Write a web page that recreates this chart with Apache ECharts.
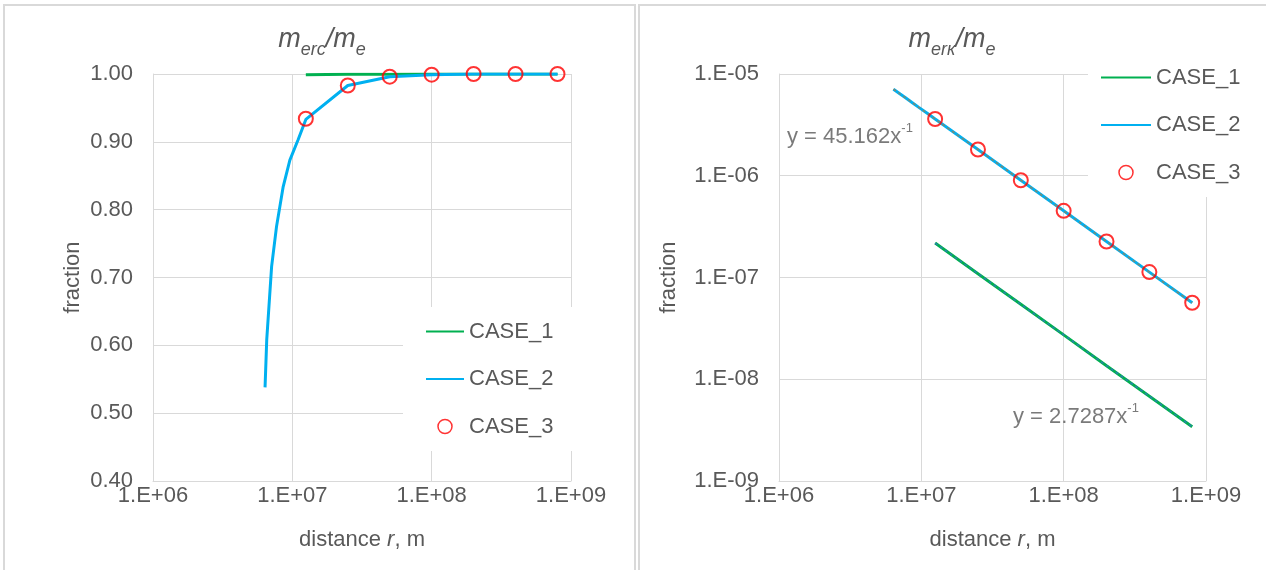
<!DOCTYPE html>
<html>
<head>
<meta charset="utf-8">
<script src="https://cdn.jsdelivr.net/npm/echarts@6/dist/echarts.min.js"></script>
<style>
html,body{margin:0;padding:0;background:#fff;}
#c{width:1266px;height:570px;}
</style>
</head>
<body>
<div id="c"></div>
<script>
// ---- data ----
const seriesNames = ['CASE_1', 'CASE_2', 'CASE_3'];
const xTickLabels = ['1.E+06', '1.E+07', '1.E+08', '1.E+09'];
const yTickLabelsRight = ['1.E-09', '1.E-08', '1.E-07', '1.E-06', '1.E-05'];

// distances r, m
const rCase2 = [6.37e6, 6.55e6, 7.1e6, 7.7e6, 8.6e6, 9.6e6, 1.1e7, 1.25e7, 2.5e7, 5e7, 1e8, 2e8, 4e8, 8e8];
const rCase13 = [1.25e7, 2.5e7, 5e7, 1e8, 2e8, 4e8, 8e8];

// left chart: m_erc/m_e
const ercCase1 = [0.9990, 0.9995, 0.9998, 0.9999, 1.0, 1.0, 1.0];
const ercCase2 = [0.538, 0.608, 0.716, 0.775, 0.834, 0.873, 0.903, 0.933, 0.983, 0.996, 0.999, 1.0, 1.0, 1.0];
const ercCase3 = [0.934, 0.983, 0.996, 0.999, 1.0, 1.0, 1.0];

// right chart: m_erк/m_e
const erkCase1 = [2.18e-7, 1.09e-7, 5.46e-8, 2.73e-8, 1.36e-8, 6.82e-9, 3.41e-9];
const erkCase2 = [7.09e-6, 6.90e-6, 6.36e-6, 5.87e-6, 5.25e-6, 4.70e-6, 4.11e-6, 3.61e-6, 1.81e-6, 9.03e-7, 4.52e-7, 2.26e-7, 1.13e-7, 5.65e-8];
const erkCase3 = [3.61e-6, 1.81e-6, 9.03e-7, 4.52e-7, 2.26e-7, 1.13e-7, 5.65e-8];

// trendline equation labels (anchor in data units)
const trendLabels = [
  { text: 'y = 45.162x', anchor: [3.15e6, 2.5e-6] },
  { text: 'y = 2.7287x', anchor: [1.22e8, 4.45e-9] }
];

// ---- helpers ----
const zip = (xs, ys) => xs.map((x, i) => [x, ys[i]]);
const TXT = '#595959';
const GRID = '#d9d9d9';
const FONT = '"Liberation Sans", Arial, sans-serif';
const FS = 22;
const decadeLabel = (labels, lo) => v => {
  const k = Math.round(Math.log10(v)) - lo;
  return labels[k] !== undefined ? labels[k] : '';
};

const chart = echarts.init(document.getElementById('c'), null, { renderer: 'canvas' });

const titleRich = {
  m: { fontSize: 27, fontStyle: 'italic', fontWeight: 'normal', color: TXT, fontFamily: FONT, lineHeight: 34, verticalAlign: 'bottom' },
  s: { fontSize: 18, fontStyle: 'italic', fontWeight: 'normal', color: TXT, fontFamily: FONT, lineHeight: 34, verticalAlign: 'bottom', padding: [0, 0, -6, 0] }
};

const xAxisCommon = {
  type: 'log', logBase: 10, min: 1e6, max: 1e9,
  axisLine: { show: true, lineStyle: { color: GRID, width: 1 } },
  axisTick: { show: false },
  splitLine: { show: true, lineStyle: { color: GRID, width: 1 } },
  minorSplitLine: { show: false },
  axisLabel: { color: TXT, fontSize: FS, fontFamily: FONT, margin: 4, formatter: decadeLabel(xTickLabels, 6) },
  name: 'distance {i|r}, m',
  nameLocation: 'middle', nameGap: 48,
  nameTextStyle: { color: TXT, fontSize: FS, fontFamily: FONT, rich: { i: { fontStyle: 'italic', color: TXT, fontSize: FS, fontFamily: FONT } } }
};

const lineLegendItem = name => ({ name: name, itemStyle: { opacity: 0 } });

const legendCommon = {
  orient: 'vertical',
  backgroundColor: '#ffffff',
  itemHeight: 14, itemGap: 22.5,
  textStyle: { color: TXT, fontSize: FS, fontFamily: FONT, lineHeight: 25 },
  selectedMode: false,
  data: [
    lineLegendItem('CASE_1'),
    lineLegendItem('CASE_2'),
    { name: 'CASE_3', icon: 'circle', itemStyle: { color: 'rgba(0,0,0,0)', borderColor: '#ff0000', borderWidth: 1.5 } }
  ]
};

const option = {
  animation: false,
  backgroundColor: '#ffffff',
  graphic: [
    { type: 'rect', shape: { x: 4, y: 5, width: 631, height: 575 }, style: { fill: 'none', stroke: GRID, lineWidth: 2 }, z: -10 },
    { type: 'rect', shape: { x: 639, y: 5, width: 640, height: 575 }, style: { fill: 'none', stroke: GRID, lineWidth: 2 }, z: -10 }
  ],
  title: [
    { left: 317, top: 14, textAlign: 'center', text: '{m|m}{s|erc}{m|/m}{s|e}', textStyle: { fontWeight: 'normal', rich: titleRich } },
    { left: 947, top: 14, textAlign: 'center', text: '{m|m}{s|erк}{m|/m}{s|e}', textStyle: { fontWeight: 'normal', rich: titleRich } }
  ],
  grid: [
    { left: 153, width: 418, top: 74, height: 407 },
    { left: 779, width: 427, top: 74, height: 407 }
  ],
  xAxis: [
    Object.assign({ gridIndex: 0 }, xAxisCommon),
    Object.assign({ gridIndex: 1 }, xAxisCommon)
  ],
  yAxis: [
    {
      gridIndex: 0, type: 'value', min: 0.4, max: 1.0, interval: 0.1,
      axisLine: { show: true, lineStyle: { color: GRID } },
      axisTick: { show: false },
      splitLine: { show: true, lineStyle: { color: GRID } },
      axisLabel: { color: TXT, fontSize: FS, fontFamily: FONT, margin: 20, formatter: v => v.toFixed(2) },
      name: 'fraction', nameLocation: 'middle', nameGap: 69,
      nameTextStyle: { color: TXT, fontSize: FS, fontFamily: FONT }
    },
    {
      gridIndex: 1, type: 'log', logBase: 10, min: 1e-9, max: 1e-5,
      axisLine: { show: true, lineStyle: { color: GRID } },
      axisTick: { show: false },
      splitLine: { show: true, lineStyle: { color: GRID } },
      minorSplitLine: { show: false },
      axisLabel: { color: TXT, fontSize: FS, fontFamily: FONT, margin: 20, formatter: decadeLabel(yTickLabelsRight, -9) },
      name: 'fraction', nameLocation: 'middle', nameGap: 99,
      nameTextStyle: { color: TXT, fontSize: FS, fontFamily: FONT }
    }
  ],
  legend: [
    Object.assign({}, legendCommon, { left: 403, top: 307, itemWidth: 38, padding: [12, 20, 12, 22] }),
    Object.assign({}, legendCommon, { left: 1088, top: 53, itemWidth: 50, padding: [12, 20, 12, 12] })
  ],
  series: [
    // left grid
    { name: 'CASE_1', type: 'line', xAxisIndex: 0, yAxisIndex: 0, symbol: 'none', data: zip(rCase13, ercCase1), lineStyle: { color: '#00b050', width: 3 }, itemStyle: { color: '#00b050' }, z: 2 },
    { name: 'CASE_2', type: 'line', xAxisIndex: 0, yAxisIndex: 0, symbol: 'none', data: zip(rCase2, ercCase2), lineStyle: { color: '#00b0f0', width: 3 }, itemStyle: { color: '#00b0f0' }, z: 3 },
    { name: 'CASE_3', type: 'scatter', xAxisIndex: 0, yAxisIndex: 0, symbol: 'circle', symbolSize: 14, data: zip(rCase13, ercCase3), itemStyle: { color: 'rgba(0,0,0,0)', borderColor: '#ff0000', borderWidth: 2 }, z: 5 },
    // right grid
    { name: 'CASE_1', type: 'line', xAxisIndex: 1, yAxisIndex: 1, symbol: 'none', data: zip(rCase13, erkCase1), lineStyle: { color: '#00b050', width: 3 }, itemStyle: { color: '#00b050' }, z: 2 },
    { name: 'trend1', type: 'line', xAxisIndex: 1, yAxisIndex: 1, symbol: 'none', data: zip(rCase13, erkCase1), lineStyle: { color: '#2a7fb0', width: 1.5, type: [3, 3] }, z: 3, silent: true },
    { name: 'CASE_2', type: 'line', xAxisIndex: 1, yAxisIndex: 1, symbol: 'none', data: zip(rCase2, erkCase2), lineStyle: { color: '#00b0f0', width: 3 }, itemStyle: { color: '#00b0f0' }, z: 3 },
    { name: 'trend2', type: 'line', xAxisIndex: 1, yAxisIndex: 1, symbol: 'none', data: zip(rCase2, erkCase2), lineStyle: { color: '#7d8a72', width: 1.5, type: [3, 3] }, z: 4, silent: true },
    { name: 'CASE_3', type: 'scatter', xAxisIndex: 1, yAxisIndex: 1, symbol: 'circle', symbolSize: 14, data: zip(rCase13, erkCase3), itemStyle: { color: 'rgba(0,0,0,0)', borderColor: '#ff0000', borderWidth: 2 }, z: 5 },
    {
      name: 'trendLabels', type: 'scatter', xAxisIndex: 1, yAxisIndex: 1, symbolSize: 0, silent: true, z: 6,
      data: trendLabels.map(t => ({ value: t.anchor, label: { formatter: '{a|' + t.text + '}{b|-1}' } })),
      label: {
        show: true, position: 'inside',
        rich: {
          a: { color: TXT, fontSize: FS, fontFamily: FONT, lineHeight: 26, verticalAlign: 'bottom' },
          b: { color: TXT, fontSize: 13, fontFamily: FONT, lineHeight: 26, verticalAlign: 'top' }
        }
      }
    }
  ]
};
chart.setOption(option);
</script>
</body>
</html>
